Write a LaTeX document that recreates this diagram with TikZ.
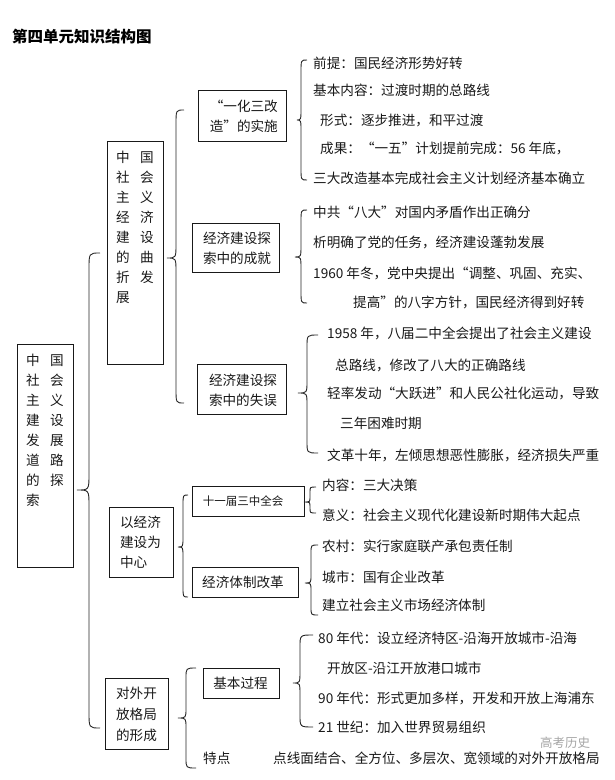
\documentclass[tikz,border=0pt]{standalone}
\usepackage{fontspec}
\setmainfont{Noto Sans CJK SC}
\newcommand{\cbrace}[7]{% tipx, spinex, endx, ytop, ytip, ybot, r
  \draw[brc] (#3,#4) .. controls (#2,#4) .. (#2,{#4+#7})
    -- (#2,{#5-#7}) .. controls (#2,#5) .. (#1,#5)
    .. controls (#2,#5) .. (#2,{#5+#7})
    -- (#2,{#6-#7}) .. controls (#2,#6) .. (#3,#6);}
\begin{document}
\begin{tikzpicture}[x=1pt,y=-1pt,
  box/.style={draw=black!90,line width=1pt,rectangle,inner sep=0pt},
  brc/.style={draw=black!85,line width=0.9pt},
  txt/.style={font=\fontsize{13.6}{20}\selectfont,text=black!90,inner sep=0pt,anchor=west},
  btxt/.style={font=\fontsize{13.6}{20}\selectfont,text=black!90,inner sep=0pt}]
\useasboundingbox (0,0) rectangle (614,780);
\fill[white] (0,0) rectangle (614,780);

% title
\node[font=\fontsize{15.5}{18}\selectfont\bfseries,inner sep=0pt,anchor=west] (title) at (12,37) {第四单元知识结构图};

% level A
\node[box,minimum width=56,minimum height=223] (A) at (45,455.5) {};
\node[btxt,align=left] (At) at (45,430) {中\hspace{10.4pt}国\\社\hspace{10.4pt}会\\主\hspace{10.4pt}义\\建\hspace{10.4pt}设\\发\hspace{10.4pt}展\\道\hspace{10.4pt}路\\的\hspace{10.4pt}探\\索};
\cbrace{77}{89}{100}{253}{490}{728}{16}

% level B
\node[box,minimum width=56,minimum height=223] (B1) at (135,252.5) {};
\node[btxt,align=left] (B1t) at (135,227) {中\hspace{10.4pt}国\\社\hspace{10.4pt}会\\主\hspace{10.4pt}义\\经\hspace{10.4pt}济\\建\hspace{10.4pt}设\\的\hspace{10.4pt}曲\\折\hspace{10.4pt}发\\展};
\node[box,minimum width=64,minimum height=70] (B2) at (141,542) {};
\node[btxt,align=left] (B2t) at (140.5,542) {以经济\\建设为\\中心};
\node[box,minimum width=63,minimum height=71] (B3) at (136.5,713.5) {};
\node[btxt,align=left,font=\fontsize{13.6}{21}\selectfont] (B3t) at (136.5,714) {对外开\\放格局\\的形成};

\cbrace{167}{176}{184}{110}{258}{403}{14}
\cbrace{178}{183}{188}{495}{547}{597}{10}
\cbrace{178}{186}{196}{668}{718}{768}{10}

% level C
\node[box,minimum width=88,minimum height=51] (C1) at (242,115.5) {};
\node[btxt,align=right,anchor=east] (C1t) at (278,116) {“一化三改\\造”的实施};
\node[box,minimum width=87,minimum height=49] (C2) at (235.5,247.5) {};
\node[btxt,align=center] (C2t) at (237,248) {经济建设探\\索中的成就};
\node[box,minimum width=89,minimum height=50] (C3) at (241.5,389) {};
\node[btxt,align=center] (C3t) at (243,390) {经济建设探\\索中的失误};
\node[box,minimum width=112,minimum height=30] (C4) at (248,501) {};
\node[btxt,font=\fontsize{11.5}{14}\selectfont] (C4t) at (243,501) {十一届三中全会};
\node[box,minimum width=106,minimum height=30] (C5) at (245,582) {};
\node[btxt] (C5t) at (243,582) {经济体制改革};
\node[box,minimum width=76,minimum height=30] (C6) at (241,683) {};
\node[btxt] (C6t) at (240.5,683) {基本过程};
\node[txt] (T7) at (203,758) {特点};

\cbrace{297}{301}{307}{60}{120}{180}{12}
\cbrace{295}{301}{307}{210}{257}{303}{12}
\cbrace{298}{307}{318}{335}{393}{453}{12}
\cbrace{304}{310}{316}{487}{502}{513}{5}
\cbrace{305}{311}{318}{545}{583}{615}{8}
\cbrace{293}{300}{313}{635}{683}{727}{12}

% items C1
\node[txt] (i11) at (313,63) {前提：国民经济形势好转};
\node[txt] (i12) at (313,90) {基本内容：过渡时期的总路线};
\node[txt] (i13) at (320,120) {形式：逐步推进，和平过渡};
\node[txt] (i14) at (320,148) {成果：“一五”计划提前完成：56 年底，};
\node[txt] (i15) at (313,178) {三大改造基本完成社会主义计划经济基本确立};
% items C2
\node[txt] (i21) at (313,212) {中共“八大”对国内矛盾作出正确分};
\node[txt] (i22) at (313,242) {析明确了党的任务，经济建设蓬勃发展};
\node[txt] (i23) at (313,273) {1960 年冬，党中央提出“调整、巩固、充实、};
\node[txt] (i24) at (353,302) {提高”的八字方针，国民经济得到好转};
% items C3
\node[txt] (i31) at (327,333) {1958 年，八届二中全会提出了社会主义建设};
\node[txt] (i32) at (335,365) {总路线，修改了八大的正确路线};
\node[txt] (i33) at (327,393) {轻率发动“大跃进”和人民公社化运动，导致};
\node[txt] (i34) at (340,423) {三年困难时期};
\node[txt] (i35) at (327,455) {文革十年，左倾思想恶性膨胀，经济损失严重};
% items C4
\node[txt] (i41) at (322,485) {内容：三大决策};
\node[txt] (i42) at (322,515) {意义：社会主义现代化建设新时期伟大起点};
% items C5
\node[txt] (i51) at (322,546) {农村：实行家庭联产承包责任制};
\node[txt] (i52) at (322,577) {城市：国有企业改革};
\node[txt] (i53) at (322,605) {建立社会主义市场经济体制};
% items C6
\node[txt] (i61) at (318,638) {80 年代：设立经济特区-沿海开放城市-沿海};
\node[txt] (i62) at (327,668) {开放区-沿江开放港口城市};
\node[txt] (i63) at (318,698) {90 年代：形式更加多样，开发和开放上海浦东};
\node[txt] (i64) at (318,727) {21 世纪：加入世界贸易组织};
\node[txt] (i71) at (273,758) {点线面结合、全方位、多层次、宽领域的对外开放格局};

% watermark
\node[font=\fontsize{12.5}{14}\selectfont,text=black!35,inner sep=0pt,anchor=west] (wm) at (540,743) {高考历史};
\end{tikzpicture}
\end{document}
